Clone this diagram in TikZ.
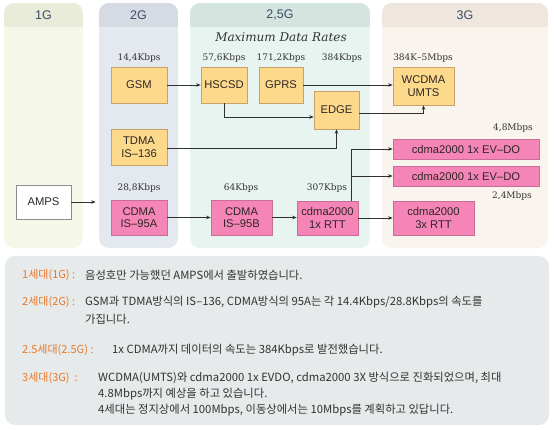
\documentclass[tikz,border=0pt]{standalone}
\usepackage{fontspec}
\setmainfont{Liberation Sans}
\newfontfamily\kr{Noto Sans CJK KR}
\newfontfamily\ratefont{DejaVu Serif}
\usetikzlibrary{arrows.meta}
\definecolor{ga}{HTML}{E9ECD9}\definecolor{gab}{HTML}{F5F8E8}
\definecolor{gb}{HTML}{D6DBE3}\definecolor{gbb}{HTML}{E4E8EF}
\definecolor{gc}{HTML}{D4E5DF}\definecolor{gcb}{HTML}{E8F4F0}
\definecolor{gd}{HTML}{EFE6DE}\definecolor{gdb}{HTML}{FAF4EE}
\definecolor{yfill}{HTML}{FDD98C}\definecolor{ybord}{HTML}{C9A26A}
\definecolor{pfill}{HTML}{F585B6}\definecolor{pbord}{HTML}{C86D95}
\definecolor{boxtxt}{HTML}{2E2626}\definecolor{arrc}{HTML}{303030}
\definecolor{hdtxt}{HTML}{3C4C66}\definecolor{botc}{HTML}{E6EAEA}
\definecolor{orng}{HTML}{E8792B}\definecolor{ktxt}{HTML}{333333}
\begin{document}
\begin{tikzpicture}[x=1pt,y=-1pt,
  bx/.style={draw=#1, line width=0.6pt, align=center, inner sep=0pt, text=boxtxt,
    font=\fontsize{11.2}{12.5}\selectfont},
  ybox/.style={bx=ybord, fill=yfill},
  pbox/.style={bx=pbord, fill=pfill},
  rt/.style={font=\ratefont\fontsize{9}{10}\selectfont, text=ktxt, inner sep=0pt},
  arr/.style={-{Stealth[length=4.5pt,width=3.5pt]}, line width=0.7pt, draw=arrc},
  hd/.style={font=\fontsize{12.5}{14}\selectfont, text=hdtxt, inner sep=0pt},
  kl/.style={font=\kr\fontsize{11}{12}\selectfont, text=orng, inner sep=0pt, anchor=west},
  kt/.style={font=\kr\fontsize{11.3}{12}\selectfont, text=ktxt, inner sep=0pt, anchor=west}]
\useasboundingbox (0,0) rectangle (554,430);
\fill[white] (0,0) rectangle (554,430);
% panels
\begin{scope}\clip[rounded corners=10pt] (4,3) rectangle (83,248);
\fill[gab] (4,3) rectangle (83,248); \fill[ga] (4,3) rectangle (83,27);\end{scope}
\begin{scope}\clip[rounded corners=10pt] (99,3) rectangle (178,248);
\fill[gbb] (99,3) rectangle (178,248); \fill[gb] (99,3) rectangle (178,27);\end{scope}
\begin{scope}\clip[rounded corners=10pt] (190,3) rectangle (370,248);
\fill[gcb] (190,3) rectangle (370,248); \fill[gc] (190,3) rectangle (370,27);\end{scope}
\begin{scope}\clip[rounded corners=10pt] (382,3) rectangle (548,248);
\fill[gdb] (382,3) rectangle (548,248); \fill[gd] (382,3) rectangle (548,27);\end{scope}
\node[hd] (h1) at (43.5,15) {1G};
\node[hd] (h2) at (138.5,15) {2G};
\node[hd] (h3) at (280,15) {2,5G};
\node[hd] (h4) at (465,15) {3G};
\node[font=\ratefont\itshape\fontsize{12}{14}\selectfont, text=ktxt, inner sep=0pt] (mdr) at (281,37) {Maximum Data Rates};
% boxes
\node[ybox, minimum width=56pt, minimum height=36pt] (gsm) at (139,85) {GSM};
\node[ybox, minimum width=46pt, minimum height=36pt] (hscsd) at (224,85) {HSCSD};
\node[ybox, minimum width=44pt, minimum height=36pt] (gprs) at (281,85) {GPRS};
\node[ybox, minimum width=45pt, minimum height=38pt] (edge) at (336.5,110) {EDGE};
\node[ybox, minimum width=61pt, minimum height=38pt] (wcdma) at (423.5,86) {WCDMA\\UMTS};
\node[ybox, minimum width=56pt, minimum height=36pt] (tdma) at (139,147) {TDMA\\IS\textendash 136};
\node[bx=black!45, fill=white, minimum width=55pt, minimum height=34pt] (amps) at (43.5,202) {AMPS};
\node[pbox, minimum width=56pt, minimum height=35pt] (cdmaA) at (139,217.5) {CDMA\\IS\textendash 95A};
\node[pbox, minimum width=61pt, minimum height=35pt] (cdmaB) at (241.5,217.5) {CDMA\\IS\textendash 95B};
\node[pbox, minimum width=61pt, minimum height=34pt] (rtt1) at (327.5,218) {cdma2000\\1x RTT};
\node[pbox, minimum width=146pt, minimum height=20pt] (evdo1) at (466,149) {cdma2000 1x EV\textendash DO};
\node[pbox, minimum width=146pt, minimum height=20pt] (evdo2) at (466,176) {cdma2000 1x EV\textendash DO};
\node[pbox, minimum width=81pt, minimum height=34pt] (rtt3) at (433.5,218) {cdma2000\\3x RTT};
% rates
\node[rt] (r1) at (139,58) {14,4Kbps};
\node[rt] (r2) at (224,58) {57,6Kbps};
\node[rt] (r3) at (281,58) {171,2Kbps};
\node[rt] (r4) at (342,58) {384Kbps};
\node[rt] (r5) at (423,58) {384K\textendash 5Mbps};
\node[rt] (r6) at (139,188) {28,8Kbps};
\node[rt] (r7) at (241,188) {64Kbps};
\node[rt] (r8) at (327,188) {307Kbps};
\node[rt] (r9) at (513,128) {4,8Mbps};
\node[rt] (r10) at (512,196) {2,4Mbps};
% connectors
\draw[arr] (gsm.east) -- (hscsd.west);
\draw[arr] (hscsd.south) |- ([yshift=-7pt]edge.west);
\draw[arr] (gprs.east) -- (gprs.east -| wcdma.west);
\draw[arr] ([yshift=-3pt]edge.east) -| (wcdma.south);
\draw[arr] ([yshift=-1pt]tdma.east) -| (edge.south);
\draw[arr, shorten >=15pt] (amps.east) -- (amps.east -| cdmaA.west);
\draw[arr] (cdmaA.east) -- (cdmaB.west);
\draw[arr] (cdmaB.east) -- (cdmaB.east -| rtt1.west);
\draw[arr] (rtt1.east) -- (rtt1.east -| rtt3.west);
\draw[arr] ([xshift=23.5pt]rtt1.north) |- (evdo1.west);
\draw[arr] ([xshift=23.5pt]rtt1.north) |- (evdo2.west);
% bottom panel
\fill[botc, rounded corners=10pt] (5,256) rectangle (549,425);
\node[kl] (l1) at (22,275) {1세대(1G) :};
\node[kt] (t1) at (85,275) {음성호만 가능했던 AMPS에서 출발하였습니다.};
\node[kl] (l2) at (22,302) {2세대(2G) :};
\node[kt] (t2) at (85,302) {GSM과 TDMA방식의 IS\textendash 136, CDMA방식의 95A는 각 14.4Kbps/28.8Kbps의 속도를};
\node[kt] (t2b) at (85,319) {가집니다.};
\node[kl] (l3) at (22,350) {2.5세대(2.5G)\ :};
\node[kt] (t3) at (112,350) {1x CDMA까지 데이터의 속도는 384Kbps로 발전했습니다.};
\node[kl] (l4) at (22,378) {3세대(3G)\ \ :};
\node[kt] (t4) at (98,378) {WCDMA(UMTS)와 cdma2000 1x EVDO, cdma2000 3X 방식으로 진화되었으며, 최대};
\node[kt] (t4b) at (98,394) {4.8Mbps까지 예상을 하고 있습니다.};
\node[kt] (t4c) at (98,410) {4세대는 정지상에서 100Mbps, 이동상에서는 10Mbps를 계획하고 있답니다.};
\end{tikzpicture}
\end{document}
